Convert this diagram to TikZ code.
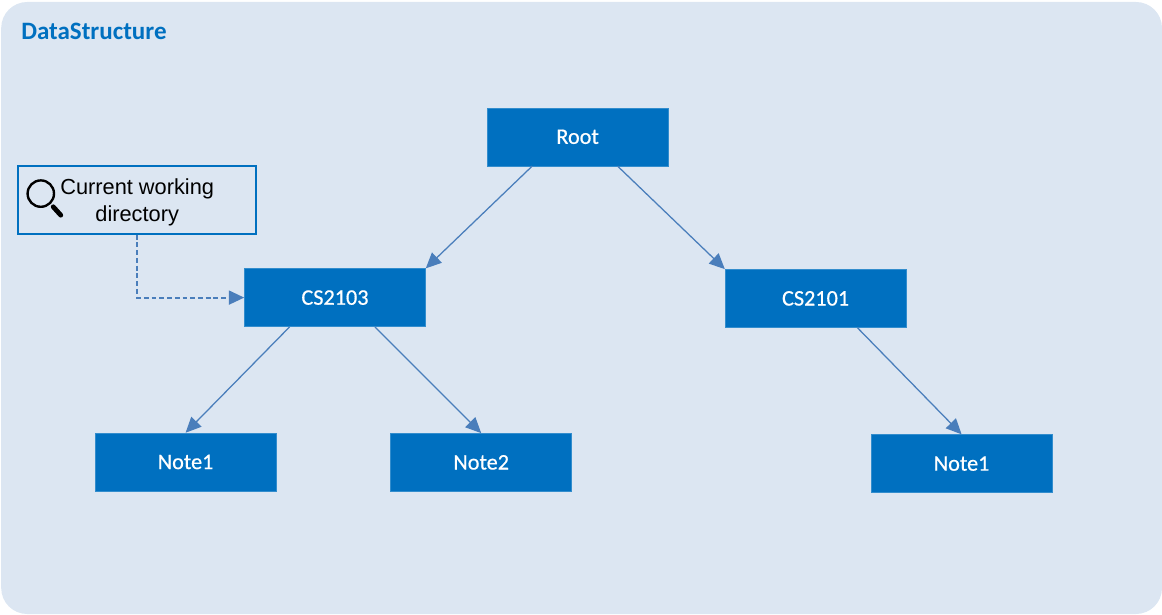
\documentclass[tikz,border=0pt]{standalone}
\usepackage{fontspec}
\setmainfont{Carlito}
\newfontfamily\labelfont[FakeBold=0.6]{Carlito}
\newfontfamily\arialfont{Liberation Sans}
\usetikzlibrary{arrows.meta,positioning,calc}
\definecolor{panelbg}{HTML}{DCE6F2}
\definecolor{boxblue}{HTML}{0070C0}
\definecolor{arrowblue}{HTML}{4A7EBB}

\begin{document}
\begin{tikzpicture}[
    dirbox/.style={draw=boxblue!80!white, line width=0.4pt, fill=boxblue, minimum width=4.525cm, minimum height=1.45cm, inner sep=0pt, align=center, text=white, font=\labelfont\fontsize{15.8}{19}\selectfont},
    notebox/.style={draw=boxblue, line width=1.5pt, minimum width=5.95cm, minimum height=1.7cm, inner sep=0pt, align=center, font=\arialfont\fontsize{15.5}{19.2}\selectfont},
    arr/.style={-{Triangle[length=11pt, width=10pt]}, draw=arrowblue, line width=0.9pt},
    lens/.style={draw=black, line width=1.7pt}
]
\useasboundingbox (0,0) rectangle (29.05,15.35);
\fill[panelbg, rounded corners=0.65cm] (0.03,0) rectangle (29.05,15.3);
\node[anchor=west, inner sep=0pt, text=boxblue, font=\bfseries\fontsize{17.8}{21}\selectfont] (title) at (0.525,14.565) {DataStructure};

\node[dirbox] (root) at (14.44,11.93) {Root};
\node[dirbox] (cs2103) at (8.375,7.91) {CS2103};
\node[dirbox] (cs2101) at (20.39,7.89) {CS2101};
\node[dirbox] (noteA) at (4.64,3.8) {Note1};
\node[dirbox] (noteB) at (12.03,3.79) {Note2};
\node[dirbox] (noteC) at (24.04,3.76) {Note1};
\node[notebox] (cwd) at (3.43,10.36) {\rule{0pt}{15.6pt}Current working\\directory};

% magnifier
\draw[lens] (1.02,10.51) circle (0.33);
\draw[lens, line width=3.4pt, line cap=round] (1.33,10.18) -- (1.52,9.97);

\draw[arr] ($(root.south west)!0.25!(root.south east)$) -- (cs2103.north east);
\draw[arr] ($(root.south west)!0.72!(root.south east)$) -- (cs2101.north west);
\draw[arr] ($(cs2103.south west)!0.25!(cs2103.south east)$) -- (noteA.north);
\draw[arr] ($(cs2103.south west)!0.72!(cs2103.south east)$) -- (noteB.north);
\draw[arr] ($(cs2101.south west)!0.73!(cs2101.south east)$) -- (noteC.north);
\draw[arr, line width=1.4pt, dash pattern=on 3.5pt off 2pt] (cwd.south) |- (cs2103.west);
\end{tikzpicture}
\end{document}
